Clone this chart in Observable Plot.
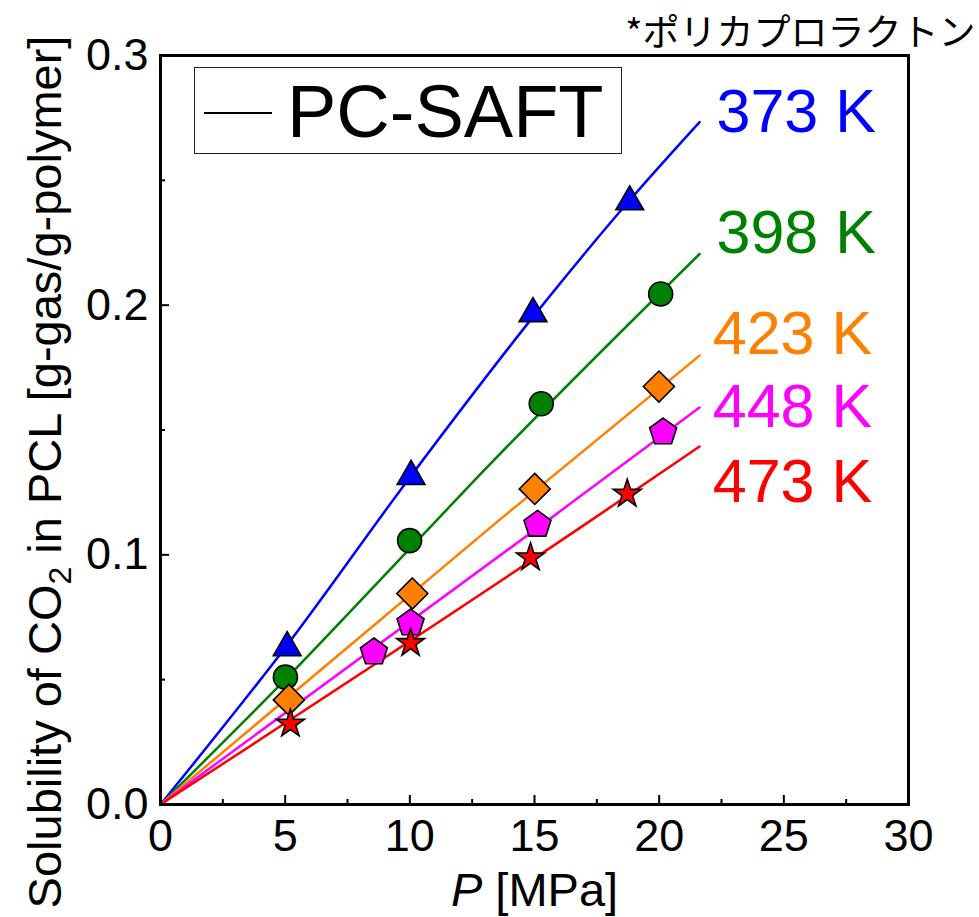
<!DOCTYPE html>
<html><head><meta charset="utf-8">
<script src="https://cdn.jsdelivr.net/npm/d3@7"></script>
<script src="https://cdn.jsdelivr.net/npm/@observablehq/plot@0.6"></script>
<style>
body{margin:0;background:#fff;}
#wrap{position:relative;width:979px;height:917px;font-family:"Liberation Sans",Arial,sans-serif;}
#legend{position:absolute;left:194px;top:67px;width:428px;height:87px;border:1.5px solid #222;box-sizing:border-box;background:#fff;}
#legline{position:absolute;left:9px;top:44px;width:68px;height:0;border-top:2px solid #000;}
#legtext{position:absolute;left:92px;top:7px;font-size:74px;line-height:74px;color:#000;white-space:nowrap;}
</style></head>
<body><div id="wrap"></div>
<script>
// ---- data ----
const temps = ["373 K", "398 K", "423 K", "448 K", "473 K"];
// experimental points: pressure [MPa] and solubility [g/g]
const p373 = [5.08, 10.05, 14.94, 18.82];
const s373 = [0.0628, 0.1314, 0.1966, 0.2414];
const p398 = [5.01, 9.99, 15.27, 20.06];
const s398 = [0.0510, 0.1057, 0.1605, 0.2045];
const p423 = [5.15, 10.10, 15.01, 19.99];
const s423 = [0.0419, 0.0845, 0.1264, 0.1674];
const p448 = [8.56, 10.03, 15.12, 20.16];
const s448 = [0.0610, 0.0726, 0.1121, 0.1491];
const p473 = [5.21, 10.03, 14.84, 18.72];
const s473 = [0.0323, 0.0646, 0.0989, 0.1244];
// PC-SAFT model curves
const fp373 = [0, 5, 10, 15, 18.8, 21.62];
const fs373 = [0, 0.0628, 0.1310, 0.1960, 0.2418, 0.2733];
const fp398 = [0, 5, 10, 12.84, 21.62];
const fs398 = [0, 0.0500, 0.1025, 0.1324, 0.2205];
const fp423 = [0, 13.56, 21.62];
const fs423 = [0, 0.1137, 0.1798];
const fp448 = [0, 15.52, 21.62];
const fs448 = [0, 0.1137, 0.1590];
const fp473 = [0, 17.25, 21.62];
const fs473 = [0, 0.1137, 0.1434];
// curve labels (pressure, solubility of baseline)
const labelP = [22.3, 22.3, 22.15, 22.15, 22.15];
const labelS = [0.2695, 0.2207, 0.1806, 0.1514, 0.1213];
// ticks
const xMajor = [0, 5, 10, 15, 20, 25, 30];
const xMinor = [2.5, 7.5, 12.5, 17.5, 22.5, 27.5];
const yMajor = [0, 0.1, 0.2, 0.3];
const yMinor = [0.05, 0.15, 0.25];
const xLabel = "P [MPa]";
const yLabel = "Solubility of CO2 in PCL [g-gas/g-polymer]";
const note = "*ポリカプロラクトン";
const legendLabel = "PC-SAFT";

// ---- styles ----
const colors = ["#0000FF", "#008000", "#FF8000", "#FF00FF", "#FF0000"];
const pentagon = {
  draw(context, size) {
    const R = Math.sqrt(size / Math.PI);
    for (let i = 0; i < 5; i++) {
      const a = -Math.PI / 2 + i * 2 * Math.PI / 5;
      const x = R * Math.cos(a), y = R * Math.sin(a);
      if (i) context.lineTo(x, y); else context.moveTo(x, y);
    }
    context.closePath();
  }
};
const symbols = ["triangle", "circle", "diamond2", pentagon, "star"];
const radii = [10.3, 12, 14, 14.2, 8.8];

const exp = [[p373, s373], [p398, s398], [p423, s423], [p448, s448], [p473, s473]];
const fit = [[fp373, fs373], [fp398, fs398], [fp423, fs423], [fp448, fs448], [fp473, fs473]];
const rows = (ps, ss) => ps.map((p, i) => ({p, s: ss[i]}));

const marks = [];
fit.forEach(([ps, ss], k) => {
  marks.push(Plot.line(rows(ps, ss), {x: "p", y: "s", stroke: colors[k], strokeWidth: 2.5, curve: "monotone-x"}));
});
exp.forEach(([ps, ss], k) => {
  marks.push(Plot.dot(rows(ps, ss), {x: "p", y: "s", symbol: symbols[k], r: radii[k], fill: colors[k], stroke: "#000", strokeWidth: 1.6}));
});
marks.push(Plot.text(temps.map((t, i) => ({t, p: labelP[i], s: labelS[i], c: colors[i]})),
  {x: "p", y: "s", text: "t", fill: "c", textAnchor: "start", lineAnchor: "bottom", fontSize: 61}));

const plot = Plot.plot({
  width: 979, height: 917,
  marginLeft: 160, marginRight: 71, marginTop: 55, marginBottom: 113,
  style: {fontFamily: "'Liberation Sans', Arial, sans-serif", fontSize: "45px", background: "#fff", color: "#000"},
  x: {domain: [0, 30], axis: null},
  y: {domain: [0, 0.3], axis: null},
  color: {type: "identity"},
  marks: [
    ...marks,
    Plot.frame({stroke: "#000", strokeWidth: 3}),
    Plot.axisX(xMajor, {anchor: "bottom", tickSize: -9, text: null, strokeWidth: 2, label: null}),
    Plot.axisX(xMinor, {anchor: "bottom", tickSize: -5, text: null, strokeWidth: 2, label: null}),
    Plot.axisX(xMajor, {anchor: "bottom", tickSize: 0, tickPadding: 15, fontSize: 45, label: null, tickFormat: d => String(d)}),
    Plot.axisY(yMajor, {anchor: "left", tickSize: -9, text: null, strokeWidth: 2, label: null}),
    Plot.axisY(yMinor, {anchor: "left", tickSize: -5, text: null, strokeWidth: 2, label: null}),
    Plot.axisY(yMajor, {anchor: "left", tickSize: 0, tickPadding: 12, fontSize: 45, label: null, tickFormat: d3.format(".1f")}),
    Plot.text([xLabel], {frameAnchor: "bottom", dy: 101, lineAnchor: "bottom", textAnchor: "middle", fontSize: 47}),
    Plot.text([yLabel], {frameAnchor: "left", dx: -100, dy: 42, rotate: -90, lineAnchor: "bottom", textAnchor: "middle", fontSize: 47}),
    Plot.text([note], {frameAnchor: "top-right", dx: 67, dy: -10, lineAnchor: "bottom", textAnchor: "end", fontSize: 37, fontFamily: "'Noto Sans CJK JP', sans-serif"})
  ]
});

// subscript / italic post-processing of axis labels
const NS = "http://www.w3.org/2000/svg";
for (const t of plot.querySelectorAll("text")) {
  if (t.textContent === yLabel) {
    t.textContent = "";
    const a = document.createElementNS(NS, "tspan"); a.textContent = "Solubility of CO";
    const b = document.createElementNS(NS, "tspan"); b.textContent = "2"; b.setAttribute("font-size", "32"); b.setAttribute("dy", "10");
    const c = document.createElementNS(NS, "tspan"); c.textContent = " in PCL [g-gas/g-polymer]"; c.setAttribute("dy", "-10");
    t.append(a, b, c);
  } else if (t.textContent === xLabel) {
    t.textContent = "";
    const a = document.createElementNS(NS, "tspan"); a.textContent = "P"; a.setAttribute("font-style", "italic");
    const b = document.createElementNS(NS, "tspan"); b.textContent = " [MPa]";
    t.append(a, b);
  }
}

const wrap = document.getElementById("wrap");
wrap.appendChild(plot);
const leg = document.createElement("div"); leg.id = "legend";
const ll = document.createElement("div"); ll.id = "legline";
const lt = document.createElement("div"); lt.id = "legtext"; lt.textContent = legendLabel;
leg.append(ll, lt);
wrap.appendChild(leg);
</script>
</body></html>
